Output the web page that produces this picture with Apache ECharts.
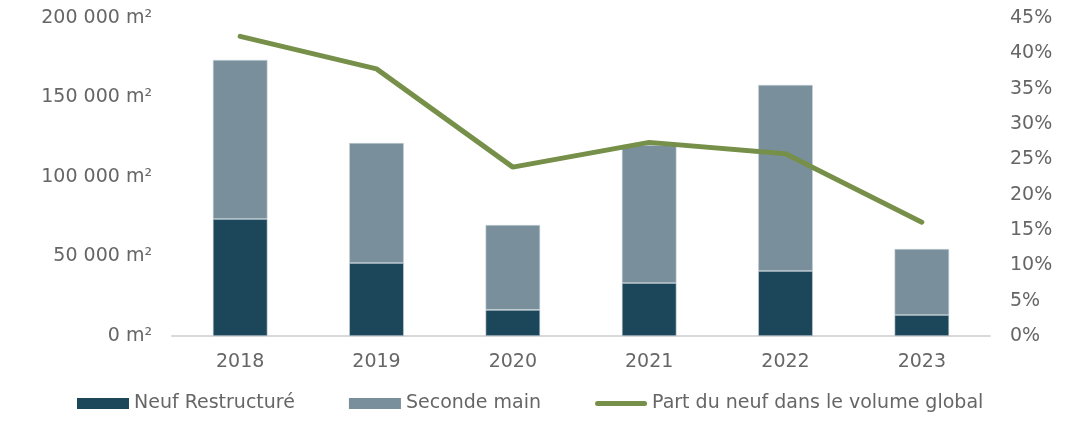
<!DOCTYPE html>
<html lang="fr" style="height: 100%">
<head>
<meta charset="utf-8">
<title>Volume neuf / seconde main</title>
</head>
<body style="height: 100%; margin: 0; background: #fff">
<div id="container" style="width: 1084px; height: 423px"></div>
<script type="text/javascript" src="https://cdn.jsdelivr.net/npm/echarts@6/dist/echarts.min.js"></script>
<script type="text/javascript">
var years = ['2018', '2019', '2020', '2021', '2022', '2023'];
var neufRestructure = [73600, 45900, 16400, 33300, 40900, 13200];
var secondeMain = [100000, 75500, 53400, 86800, 117000, 41500];
var partNeuf = [42.4, 37.8, 23.9, 27.4, 25.8, 16.1];

var font = 'DejaVu Sans';
var grey = '#666666';
var dom = document.getElementById('container');
var myChart = echarts.init(dom);

function fmtM2(v) {
    return String(v).replace(/\B(?=(\d{3})+(?!\d))/g, ' ') + ' m²';
}

var option = {
    animation: false,
    textStyle: { fontFamily: font },
    grid: { left: 172, right: 94, top: 18, bottom: 87 },
    legend: {
        bottom: 5,
        left: 72,
        itemGap: 54,
        itemWidth: 52,
        itemHeight: 11,
        itemStyle: { borderWidth: 0 },
        textStyle: { fontSize: 19, color: grey, fontFamily: font },
        data: [
            { name: 'Neuf Restructuré', icon: 'rect' },
            { name: 'Seconde main', icon: 'rect' },
            { name: 'Part du neuf dans le volume global',
              icon: 'path://M2.5,0 L49.5,0 A2.5,2.5 0 0 1 49.5,5 L2.5,5 A2.5,2.5 0 0 1 2.5,0 Z' }
        ]
    },
    xAxis: {
        type: 'category',
        data: years,
        axisLine: { lineStyle: { color: '#d9d9d9', width: 2 } },
        axisTick: { show: false },
        axisLabel: { fontSize: 19, color: grey, margin: 17 }
    },
    yAxis: [
        {
            type: 'value',
            min: 0, max: 200000, interval: 50000,
            splitLine: { show: false },
            axisLabel: { fontSize: 19, color: grey, margin: 20, formatter: fmtM2 }
        },
        {
            type: 'value',
            min: 0, max: 45, interval: 5,
            splitLine: { show: false },
            axisLabel: { fontSize: 19, color: grey, margin: 20, formatter: '{value}%' }
        }
    ],
    series: [
        {
            name: 'Neuf Restructuré',
            type: 'bar',
            stack: 'vol',
            barWidth: '40%',
            itemStyle: { color: '#1c4659', borderColor: '#c8d2d8', borderWidth: 0.6 },
            data: neufRestructure
        },
        {
            name: 'Seconde main',
            type: 'bar',
            stack: 'vol',
            barWidth: '40%',
            itemStyle: { color: '#798f9b', borderColor: '#c8d2d8', borderWidth: 0.6 },
            data: secondeMain
        },
        {
            name: 'Part du neuf dans le volume global',
            type: 'line',
            yAxisIndex: 1,
            symbol: 'none',
            lineStyle: { color: '#76904a', width: 5, cap: 'round' },
            itemStyle: { color: '#76904a' },
            data: partNeuf
        }
    ]
};

myChart.setOption(option);
window.addEventListener('resize', myChart.resize);
</script>
</body>
</html>
